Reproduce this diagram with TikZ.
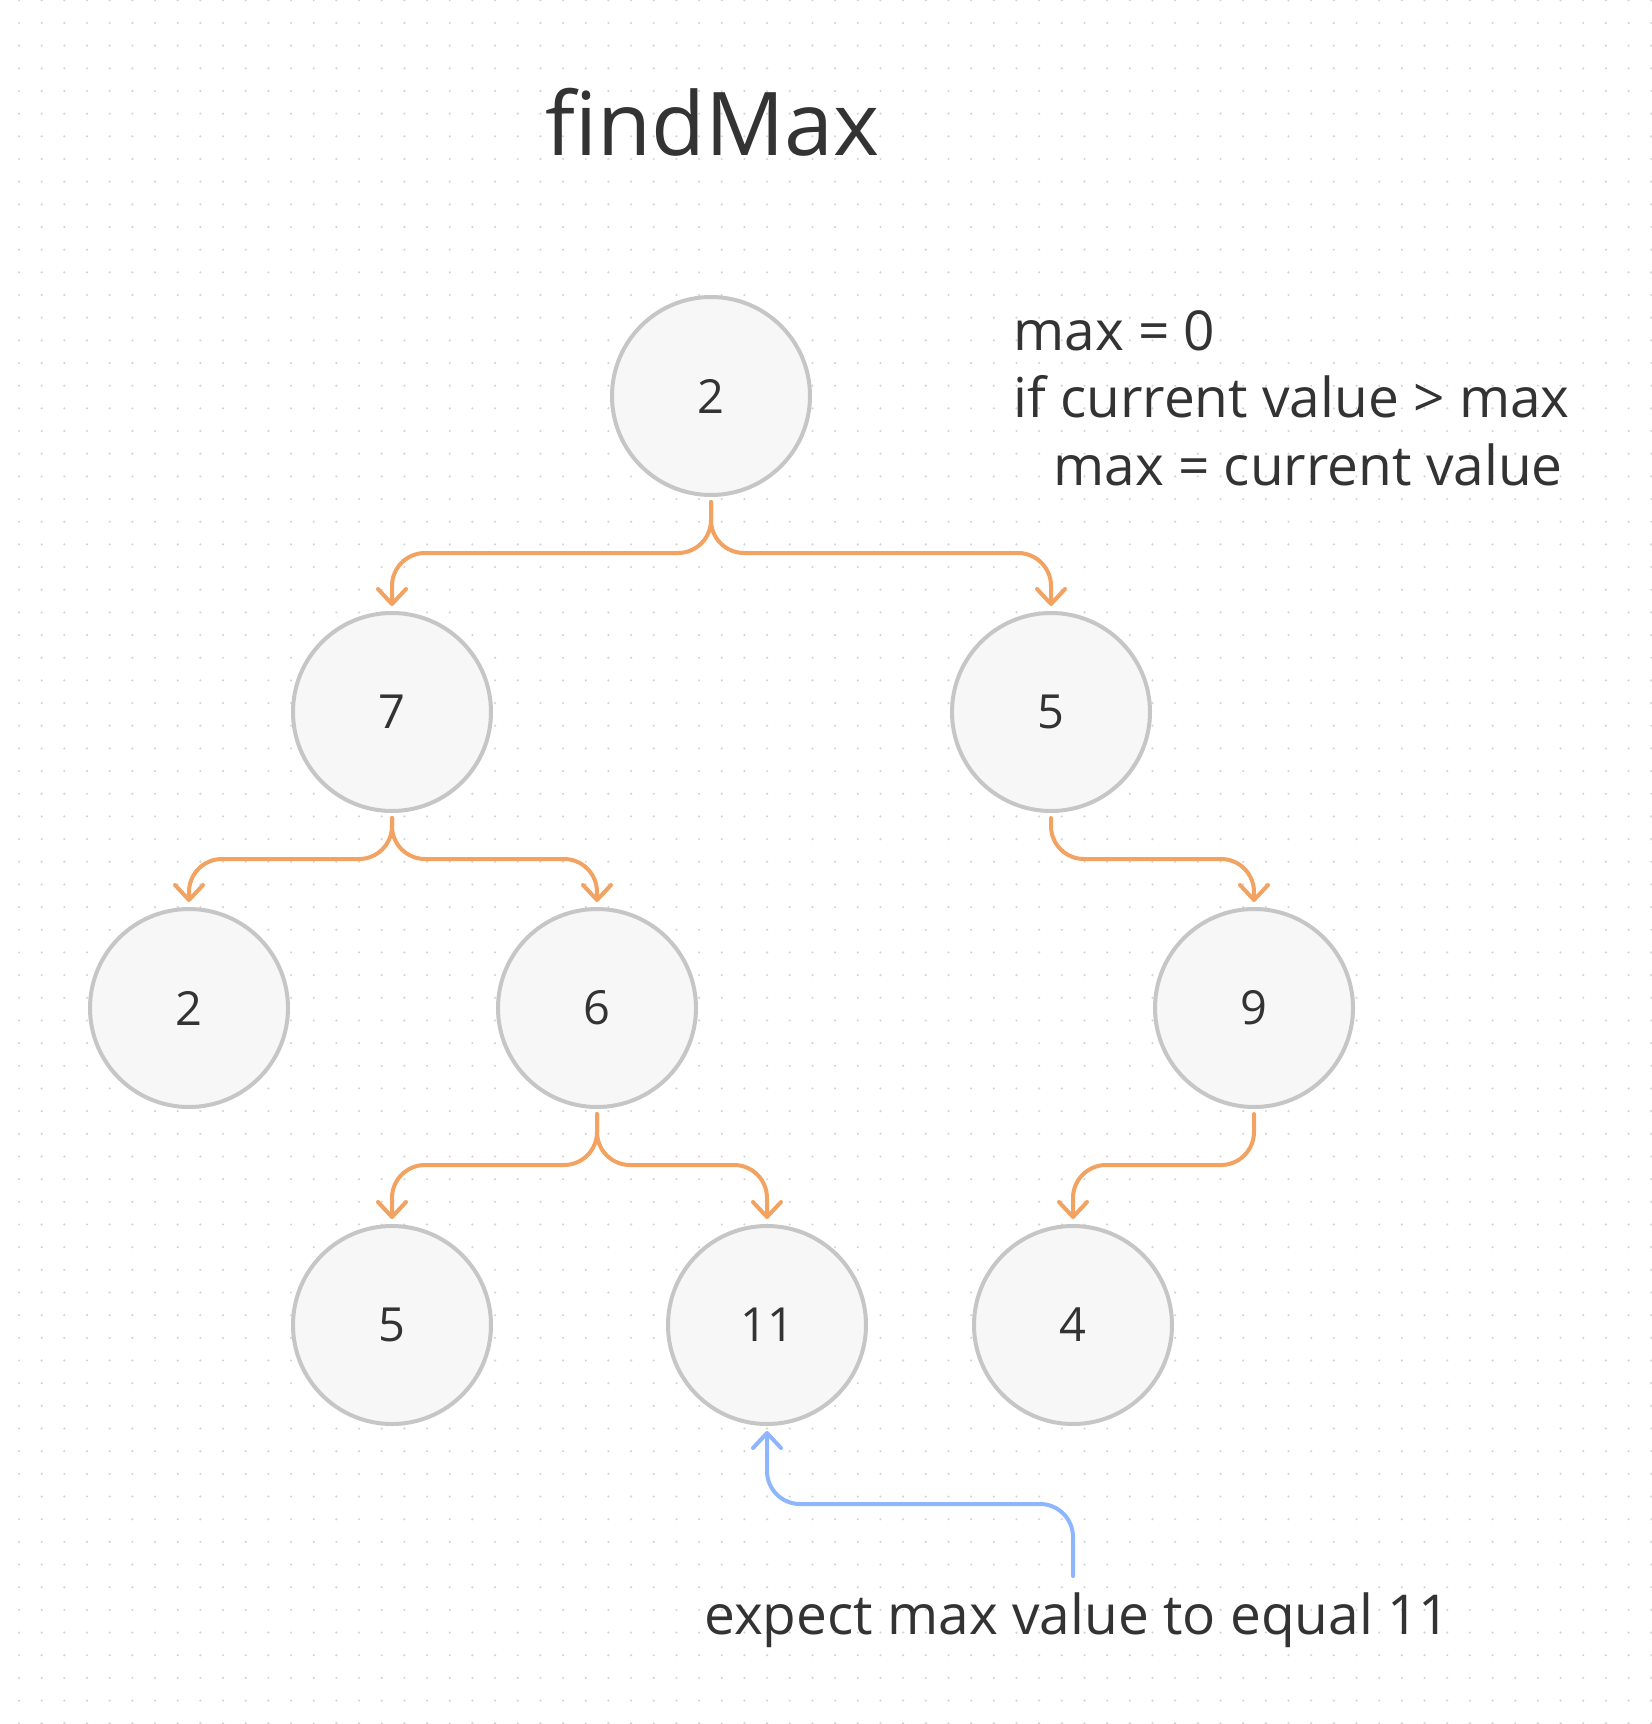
\documentclass[tikz,border=0pt]{standalone}
\usepackage{fontspec}
\setmainfont{Open Sans}
\usetikzlibrary{arrows.meta}
\definecolor{inkgray}{HTML}{333333}
\definecolor{ringgray}{HTML}{C6C6C6}
\definecolor{fillgray}{HTML}{F7F7F7}
\definecolor{dotgray}{HTML}{D4D4D4}
\definecolor{edgeorange}{HTML}{F2A261}
\definecolor{hintblue}{HTML}{8DB6FF}
\tikzset{treenode/.style={circle, draw=ringgray, fill=fillgray, line width=2pt, minimum size=99pt, inner sep=0pt, text=inkgray, font=\fontsize{23.5}{28}\selectfont},
  edge/.style={draw=edgeorange, line width=2pt, rounded corners=16.5pt, line cap=round, -{Straight Barb[length=7.5pt,width=14pt,round]}},
  hint/.style={edge, draw=hintblue},
  words/.style={inner sep=0pt, anchor=base west, text=inkgray, font=\fontsize{27.5}{34}\selectfont}}

\begin{document}
\begin{tikzpicture}[x=0.5pt,y=-0.5pt]
   \useasboundingbox (0,0) rectangle (1652,1724);
   \fill[white] (0,0) rectangle (1652,1724);
   % dotted canvas
   \foreach \i in {0,...,72}
     \foreach \j in {0,...,76}
       \fill[dotgray] (19+22.67*\i,0.3+22.67*\j) circle[radius=0.6pt];
   \node[words, font=\fontsize{44}{52}\selectfont] (title) at (545,155) {findMax};
   \node[words] (note1) at (1013,350) {max = 0};
   \node[words] (note2) at (1013,417) {if current value > max};
   \node[words] (note3) at (1053,485) {max = current value};
   % tree
   \node[treenode] (root) at (711,396)  {2};
   \node[treenode] (n7)   at (392,712)  {7};
   \node[treenode] (n5)   at (1051,712) {5};
   \node[treenode] (n2)   at (189,1008) {2};
   \node[treenode] (n6)   at (597,1008) {6};
   \node[treenode] (n9)   at (1254,1008) {9};
   \node[treenode] (n5b)  at (392,1325) {5};
   \node[treenode] (n11)  at (767,1325) {11};
   \node[treenode] (n4)   at (1073,1325) {4};
   \draw[edge] ([yshift=-2.5pt]root.south) -- ++(0,51) -| ([yshift=2.5pt]n7.north);
   \draw[edge] ([yshift=-2.5pt]root.south) -- ++(0,51) -| ([yshift=2.5pt]n5.north);
   \draw[edge] ([yshift=-2.5pt]n7.south) -- ++(0,41) -| ([yshift=2.5pt]n2.north);
   \draw[edge] ([yshift=-2.5pt]n7.south) -- ++(0,41) -| ([yshift=2.5pt]n6.north);
   \draw[edge] ([yshift=-2.5pt]n5.south) -- ++(0,41) -| ([yshift=2.5pt]n9.north);
   \draw[edge] ([yshift=-2.5pt]n6.south) -- ++(0,51) -| ([yshift=2.5pt]n5b.north);
   \draw[edge] ([yshift=-2.5pt]n6.south) -- ++(0,51) -| ([yshift=2.5pt]n11.north);
   \draw[edge] ([yshift=-2.5pt]n9.south) -- ++(0,51) -| ([yshift=2.5pt]n4.north);
   % pointer to the answer
   \coordinate (hintstart) at (1073,1576);
   \draw[hint] (hintstart) -- ++(0,-72) -| ([yshift=-2.5pt]n11.south);
   \node[words] (expect) at (704,1634) {expect max value to equal 11};
\end{tikzpicture}
\end{document}
